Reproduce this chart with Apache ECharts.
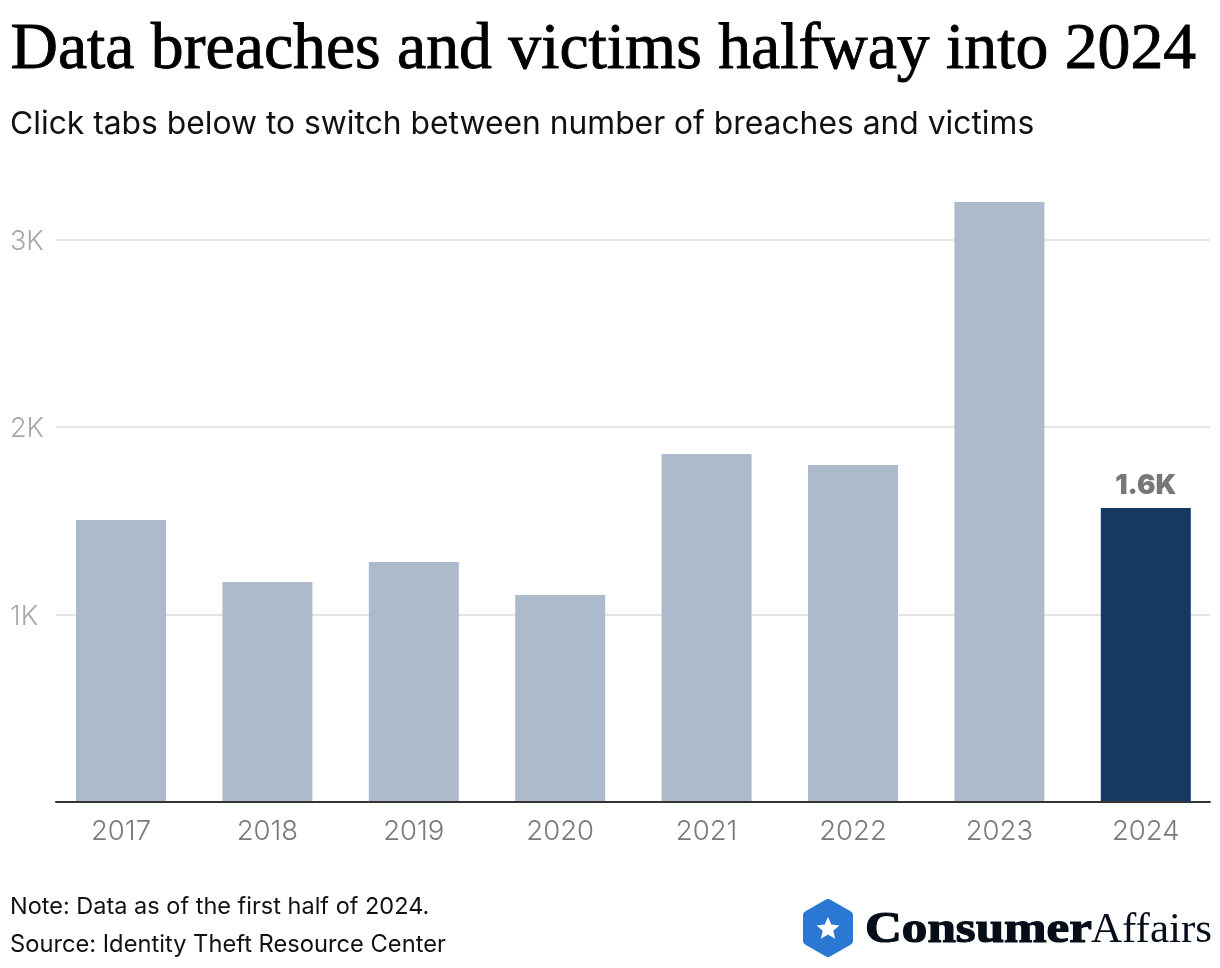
<!DOCTYPE html>
<html><head><meta charset="utf-8">
<style>html,body{margin:0;padding:0;background:#fff}#c{width:1220px;height:968px}</style>
<script src="https://cdn.jsdelivr.net/npm/echarts@6/dist/echarts.min.js"></script>
</head><body><div id="c"></div>
<script>
const years = ['2017','2018','2019','2020','2021','2022','2023','2024'];
const breaches = [1504,1173,1280,1104,1856,1797,3200,1568];
const yTicks = [1000,2000,3000];
const titleText = 'Data breaches and victims halfway into 2024';
const subtitleText = 'Click tabs below to switch between number of breaches and victims';
const noteText = 'Note: Data as of the first half of 2024.';
const sourceText = 'Source: Identity Theft Resource Center';
const SANS = 'Inter, "Noto Sans", sans-serif';
const SERIF = '"Liberation Serif", serif';
const chart = echarts.init(document.getElementById('c'), null, {renderer:'canvas'});
const fmtK = v => (v/1000).toFixed(v%1000===0?0:1)+'K';
chart.setOption({
  animation:false,
  backgroundColor:'#fff',
  grid:[
    {left:56,right:10,top:52,height:750},
    {left:47.8,width:1171.2,top:52,height:750}
  ],
  xAxis:[
    {gridIndex:0,type:'category',data:years,z:5,axisTick:{show:false},axisLabel:{show:false},
     axisLine:{show:true,lineStyle:{color:'#333',width:2}}},
    {gridIndex:1,type:'category',data:years,axisTick:{show:false},axisLine:{show:false},
     axisLabel:{color:'#7a7a7a',fontFamily:SANS,fontSize:27.5,fontWeight:300,margin:15,lineHeight:30}}
  ],
  yAxis:[
    {gridIndex:0,type:'value',min:0,max:4000,interval:1000,axisLine:{show:false},axisTick:{show:false},
     splitLine:{show:true,showMaxLine:false,lineStyle:{color:'#e4e4e4',width:2}},
     axisLabel:{align:'left',verticalAlign:'top',lineHeight:4,margin:46,color:'#a8a8a8',fontFamily:SANS,fontSize:27,fontWeight:300,
       formatter:v=>yTicks.includes(v)?fmtK(v):''}},
    {gridIndex:1,type:'value',min:0,max:4000,interval:1000,show:false,splitLine:{show:false}}
  ],
  series:[{
    type:'bar',xAxisIndex:1,yAxisIndex:1,barWidth:90,z:3,
    data:breaches.map((v,i)=>i===breaches.length-1
      ?{value:v,itemStyle:{color:'#143963'},
        label:{show:true,position:'top',distance:8,formatter:p=>fmtK(Math.round(p.value/100)*100),
          color:'#777',fontFamily:SANS,fontSize:27.5,fontWeight:900}}
      :{value:v,itemStyle:{color:'#adbacb'}})
  }],
  graphic:[
    {type:'text',left:10,top:17,style:{text:titleText,fontFamily:SERIF,fontSize:65.7,fill:'#000',stroke:'#000',lineWidth:0.9,textVerticalAlign:'top'}},
    {type:'text',left:10,top:108,style:{text:subtitleText,fontFamily:SANS,fontSize:31.8,fill:'#111'}},
    {type:'text',left:10,top:895,style:{text:noteText,fontFamily:SANS,fontSize:23.5,fill:'#111'}},
    {type:'text',left:10,top:933,style:{text:sourceText,fontFamily:SANS,fontSize:23.7,fill:'#111'}},
    {type:'polygon',shape:{points:[[828,903],[849,915],[849,941],[828,953],[807,941],[807,915]]},
      style:{fill:'#2b78d4',stroke:'#2b78d4',lineWidth:8,lineJoin:'round'}},
    {type:'polygon',shape:{points:[[828,917],[831.3,924.6],[839.5,925.4],[833.3,930.8],[835.1,938.8],[828,934.6],[820.9,938.8],[822.7,930.8],[816.5,925.4],[824.7,924.6]]},
      style:{fill:'#fff'}},
    {type:'text',x:865,y:909,scaleX:1.16,style:{text:'Consumer',fontFamily:SERIF,fontSize:44,fontWeight:'bold',fill:'#050d18',stroke:'#050d18',lineWidth:1.2}},
    {type:'text',x:1091,y:909,style:{text:'Affairs',fontFamily:SERIF,fontSize:43,fill:'#050d18'}}
  ]
});
</script></body></html>
